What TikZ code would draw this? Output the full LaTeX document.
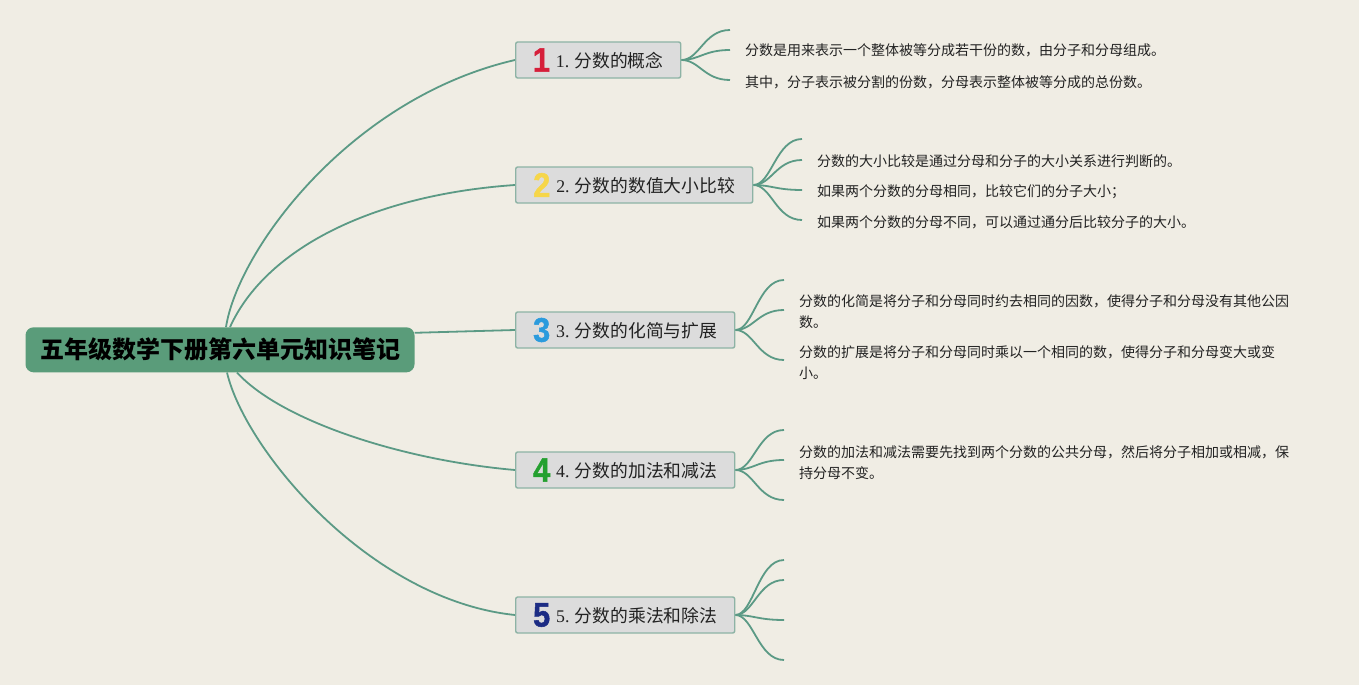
\documentclass[tikz,border=0pt]{standalone}
\usepackage{fontspec}
\setmainfont{Noto Sans CJK SC}
\newfontfamily\numfont{Liberation Serif}
\newfontfamily\iconfont[FakeBold=1.5]{Liberation Sans Bold}
\definecolor{bg}{HTML}{F0EDE4}
\definecolor{linec}{HTML}{5B9A85}
\definecolor{cfill}{HTML}{5A9C7A}
\definecolor{boxfill}{HTML}{DCDCDC}
\definecolor{boxline}{HTML}{8DB3A5}
\definecolor{txt}{HTML}{222222}
\definecolor{ic1}{HTML}{D61F3A}
\definecolor{ic2}{HTML}{F6D64A}
\definecolor{ic3}{HTML}{2B9BDD}
\definecolor{ic4}{HTML}{24A02F}
\definecolor{ic5}{HTML}{1C2C84}
\newcommand{\topicicon}[2]{\raisebox{-4pt}{\scalebox{0.9}[1]{\iconfont\fontsize{34}{34}\selectfont\color{#1}#2}}\hspace{6pt}}
\pgfdeclarelayer{edges}
\pgfsetlayers{edges,main}
\tikzset{
  central/.style={fill=cfill, rounded corners=8pt, minimum width=389pt, minimum height=45pt, inner sep=0pt, font=\bfseries\fontsize{24}{26}\selectfont, text=black},
  topic/.style={draw=boxline, fill=boxfill, line width=1.4pt, rounded corners=2pt, minimum height=36pt, anchor=west, inner sep=0pt, font=\fontsize{17.8}{20}\selectfont, text=txt},
  detail/.style={anchor=base west, inner sep=0pt, align=left, font=\fontsize{14}{21}\selectfont, text=txt},
  trunk/.style={draw=linec, line width=1.8pt},
  branch/.style={draw=linec, line width=1.8pt},
}
\begin{document}
\begin{tikzpicture}[x=1pt,y=-1pt]
\useasboundingbox (0,0) rectangle (1359,685);
\begin{pgfonlayer}{edges}
\fill[bg] (0,0) rectangle (1359,685);
\end{pgfonlayer}

\node[central] (c) at (220,349.8) {五年级数学下册第六单元知识笔记};

\node[topic, minimum width=165pt] (t1) at (515,60) {\topicicon{ic1}{1}{\numfont 1.} 分数的概念};
\node[topic, minimum width=237pt] (t2) at (515,185) {\topicicon{ic2}{2}{\numfont 2.} 分数的数值大小比较};
\node[topic, minimum width=219pt] (t3) at (515,330) {\topicicon{ic3}{3}{\numfont 3.} 分数的化简与扩展};
\node[topic, minimum width=219pt] (t4) at (515,470) {\topicicon{ic4}{4}{\numfont 4.} 分数的加法和减法};
\node[topic, minimum width=219pt] (t5) at (515,615) {\topicicon{ic5}{5}{\numfont 5.} 分数的乘法和除法};

\node[detail] (d11) at (745,56) {分数是用来表示一个整体被等分成若干份的数，由分子和分母组成。};
\node[detail] (d12) at (745,87) {其中，分子表示被分割的份数，分母表示整体被等分成的总份数。};
\node[detail] (d21) at (817,166) {分数的大小比较是通过分母和分子的大小关系进行判断的。};
\node[detail] (d22) at (817,196) {如果两个分数的分母相同，比较它们的分子大小；};
\node[detail] (d23) at (817,227) {如果两个分数的分母不同，可以通过通分后比较分子的大小。};
\node[detail] (d31) at (799,327) {分数的化简是将分子和分母同时约去相同的因数，使得分子和分母没有其他公因\\数。};
\node[detail] (d32) at (799,378) {分数的扩展是将分子和分母同时乘以一个相同的数，使得分子和分母变大或变\\小。};
\node[detail] (d41) at (799,478) {分数的加法和减法需要先找到两个分数的公共分母，然后将分子相加或相减，保\\持分母不变。};

\coordinate (b11) at (730,30);
\coordinate (b12) at (730,50);
\coordinate (b13) at (730,80);
\coordinate (b21) at (802,139);
\coordinate (b22) at (802,160);
\coordinate (b23) at (802,190);
\coordinate (b24) at (802,220);
\coordinate (b31) at (784,280);
\coordinate (b32) at (784,310);
\coordinate (b33) at (784,360);
\coordinate (b41) at (784,430);
\coordinate (b42) at (784,460);
\coordinate (b43) at (784,500);
\coordinate (b51) at (784,560);
\coordinate (b52) at (784,580);
\coordinate (b53) at (784,620);
\coordinate (b54) at (784,660);

\begin{pgfonlayer}{edges}
\draw[trunk] ([xshift=6pt]c.north) .. controls (238,250) and (350,98) .. (t1.west);
\draw[trunk] ([xshift=10pt]c.north) .. controls (265,250) and (370,195) .. (t2.west);
\draw[trunk] ([yshift=17pt]c.east) -- (t3.west);
\draw[trunk] ([xshift=17pt]c.south) .. controls (280,420) and (400,460) .. (t4.west);
\draw[trunk] ([xshift=7pt]c.south) .. controls (245,450) and (370,600) .. (t5.west);

\foreach \b in {b11,b12,b13}{\draw[branch] (t1.east) .. controls +(18,0) and +(-26,0) .. (\b);}
\foreach \b in {b21,b22,b23,b24}{\draw[branch] (t2.east) .. controls +(18,0) and +(-26,0) .. (\b);}
\foreach \b in {b31,b32,b33}{\draw[branch] (t3.east) .. controls +(18,0) and +(-26,0) .. (\b);}
\foreach \b in {b41,b42,b43}{\draw[branch] (t4.east) .. controls +(18,0) and +(-26,0) .. (\b);}
\foreach \b in {b51,b52,b53,b54}{\draw[branch] (t5.east) .. controls +(18,0) and +(-26,0) .. (\b);}
\end{pgfonlayer}
\end{tikzpicture}
\end{document}
